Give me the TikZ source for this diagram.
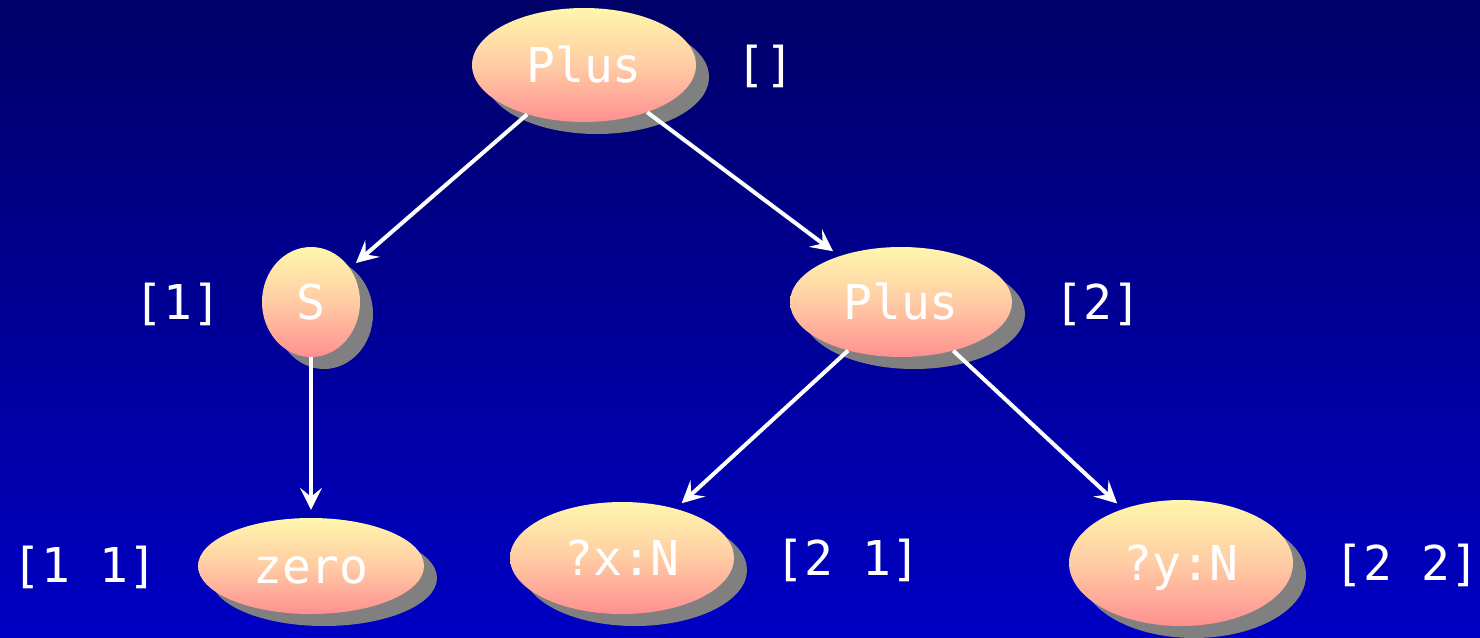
\documentclass[tikz,border=0pt]{standalone}
\usepackage{fontspec}
\setmonofont{DejaVu Sans Mono}
\usetikzlibrary{shapes.geometric,arrows.meta,shadows}
\definecolor{bgtop}{RGB}{0,0,104}
\definecolor{bgbot}{RGB}{0,0,196}
\definecolor{eltop}{RGB}{255,246,172}
\definecolor{elmid}{RGB}{255,204,164}
\definecolor{elbot}{RGB}{255,144,144}
\definecolor{shad}{RGB}{128,128,128}
\begin{document}
\begin{tikzpicture}[x=1pt,y=-1pt,
  term/.style={ellipse, inner sep=0pt, top color=eltop, bottom color=elbot, middle color=elmid,
    text=white, font=\ttfamily\fontsize{48}{48}\selectfont, text height=35pt, text depth=0pt,
    drop shadow={shadow xshift=13pt, shadow yshift=-12pt, fill=shad, opacity=1}},
  lbl/.style={text=white, inner sep=0pt, font=\ttfamily\fontsize{48}{48}\selectfont,
    text height=35pt, text depth=0pt},
  edge/.style={draw=white, line width=4pt, shorten >=8pt,
    -{Stealth[length=22pt,width=22pt,inset=9pt]}}
]
\useasboundingbox (0,0) rectangle (1480,637);
\shade[top color=bgtop, bottom color=bgbot] (0,0) rectangle (1480,637);

\node[term, minimum width=224pt, minimum height=114pt] (p0) at (584,65) {Plus};
\node[term, minimum width=98pt, minimum height=110pt] (s1) at (311,302) {S};
\node[term, minimum width=222pt, minimum height=110pt] (p2) at (901,302) {Plus};
\node[term, minimum width=226pt, minimum height=96pt] (z11) at (311,566) {zero};
\node[term, minimum width=224pt, minimum height=112pt] (x21) at (622,558) {?x:N};
\node[term, minimum width=224pt, minimum height=126pt] (y22) at (1181,563) {?y:N};

\node[lbl] (l0) at (765,64) {[]};
\node[lbl] (l1) at (178,302) {[1]};
\node[lbl] (l2) at (1098,302) {[2]};
\node[lbl] (l11) at (85,565) {[1 1]};
\node[lbl] (l21) at (848,558) {[2 1]};
\node[lbl] (l22) at (1407,563) {[2 2]};

\draw[edge] (p0) -- (s1);
\draw[edge] (p0) -- (p2);
\draw[edge] (s1) -- (z11);
\draw[edge] (p2) -- (x21);
\draw[edge] (p2) -- (y22);
\end{tikzpicture}
\end{document}
